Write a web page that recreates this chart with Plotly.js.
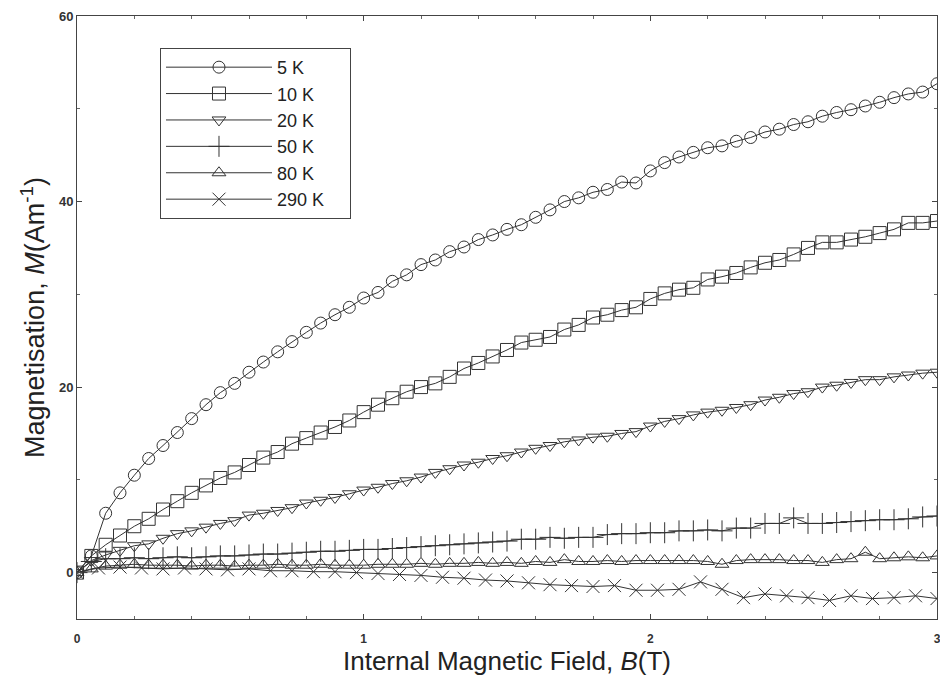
<!DOCTYPE html>
<html>
<head>
<meta charset="utf-8">
<script src="https://cdn.plot.ly/plotly-3.0.1.min.js"></script>
<style>html,body{margin:0;padding:0;background:#fff;}#chart{width:940px;height:680px;}</style>
</head>
<body>
<div id="chart"></div>
<script>
// Field values (T)
const B = [0,0.05,0.1,0.15,0.2,0.25,0.3,0.35,0.4,0.45,0.5,0.55,0.6,0.65,0.7,0.75,0.8,0.85,0.9,0.95,1.0,
  1.05,1.1,1.15,1.2,1.25,1.3,1.35,1.4,1.45,1.5,1.55,1.6,1.65,1.7,1.75,1.8,1.85,1.9,1.95,2.0,
  2.05,2.1,2.15,2.2,2.25,2.3,2.35,2.4,2.45,2.5,2.55,2.6,2.65,2.7,2.75,2.8,2.85,2.9,2.95,3.0];
const B290 = [0,0.075,0.15,0.225,0.3,0.375,0.45,0.525,0.6,0.675,0.75,0.825,0.9,0.975,
  1.05,1.125,1.2,1.275,1.35,1.425,1.5,1.575,1.65,1.725,1.8,
  1.875,1.95,2.025,2.1,2.175,2.25,2.325,2.4,2.475,2.55,2.625,2.7,2.775,2.85,2.925,3.0];

// Magnetisation (A m^-1)
const M5 = [0,1.8,6.4,8.6,10.5,12.3,13.7,15.1,16.6,18.1,19.4,20.4,21.6,22.7,23.8,24.9,25.9,26.9,27.8,28.6,29.6,
  30.2,31.4,32.1,33.2,33.7,34.6,35.1,35.9,36.4,37.0,37.5,38.3,39.1,40.0,40.4,41.0,41.3,42.1,42.0,43.3,
  44.2,44.8,45.3,45.8,46.0,46.5,46.9,47.5,47.8,48.3,48.6,49.2,49.6,49.9,50.3,50.7,51.2,51.6,51.8,52.7];
const M10 = [0,1.8,3.0,4.0,5.0,5.8,6.8,7.7,8.6,9.4,10.2,10.8,11.6,12.4,13.0,13.9,14.5,15.1,15.7,16.4,17.3,
  18.1,18.8,19.5,20.0,20.4,21.1,22.0,22.6,23.3,24.0,24.8,25.1,25.4,26.2,26.7,27.5,27.8,28.3,28.6,29.5,
  30.1,30.5,30.7,31.6,31.9,32.3,32.9,33.4,33.7,34.3,35.0,35.6,35.6,35.9,36.2,36.6,37.0,37.7,37.7,37.9];
const M20 = [0,1.3,1.9,2.4,2.9,3.1,3.7,4.2,4.5,4.9,5.3,5.6,6.2,6.4,6.7,7.0,7.5,7.8,8.1,8.5,8.9,
  9.2,9.6,9.9,10.3,10.8,11.2,11.6,11.9,12.3,12.6,13.0,13.4,13.7,14.1,14.3,14.6,14.7,15.0,15.2,15.8,
  16.3,16.6,17.0,17.3,17.5,17.8,18.1,18.6,18.9,19.3,19.5,20.0,20.2,20.5,20.8,20.8,21.1,21.3,21.5,21.6];
const M50 = [0,1.2,1.5,1.5,1.6,1.5,1.6,1.7,1.6,1.7,1.8,1.8,1.9,2.0,2.0,2.1,2.2,2.3,2.3,2.4,2.5,
  2.5,2.6,2.7,2.8,2.9,3.0,3.1,3.2,3.3,3.4,3.6,3.6,3.8,3.7,3.8,3.8,4.1,4.2,4.2,4.3,
  4.3,4.5,4.5,4.6,4.5,4.8,4.8,5.3,5.3,5.9,5.3,5.3,5.4,5.5,5.6,5.7,5.7,5.8,6.0,6.1];
const M80 = [0,0.4,0.7,0.8,0.9,0.8,0.8,0.8,0.7,0.8,0.8,0.7,0.8,0.8,0.9,0.8,0.8,0.9,0.8,0.8,0.8,
  0.9,0.9,0.9,1.0,0.9,1.0,1.0,1.1,1.0,1.1,1.0,1.2,1.1,1.4,1.2,1.2,1.3,1.2,1.3,1.3,
  1.3,1.3,1.3,1.2,0.9,1.3,1.4,1.4,1.4,1.3,1.3,1.1,1.4,1.5,2.2,1.5,1.6,1.7,1.6,1.8];
const M290 = [0,0.5,0.6,0.5,0.4,0.5,0.4,0.3,0.4,0.2,0.2,0.1,0.1,0.0,
  -0.1,-0.2,-0.3,-0.5,-0.6,-0.8,-0.9,-1.1,-1.3,-1.4,-1.5,
  -1.4,-1.9,-1.9,-1.8,-1.0,-1.8,-2.7,-2.3,-2.5,-2.7,-3.0,-2.5,-2.8,-2.7,-2.5,-2.8];

const seriesNames = ['5 K','10 K','20 K','50 K','80 K','290 K'];
const seriesX = [B,B,B,B,B,B290];
const seriesY = [M5,M10,M20,M50,M80,M290];
const symbols = ['circle-open','square-open','triangle-down-open','cross-thin-open','triangle-up-open','x-thin-open'];
const sizes = [12,13,12,15,12,13];

const ink = '#333333';
const pad = '\u00a0\u00a0\u00a0\u00a0';
const traces = seriesNames.map((n,i)=>({
  type:'scatter', mode:'lines+markers', name:n+pad,
  x:seriesX[i], y:seriesY[i],
  line:{color:ink,width:1},
  marker:{symbol:symbols[i],size:sizes[i],color:ink,line:{color:ink,width:1}}
}));

const font = 'Liberation Sans, Arial, sans-serif';
const layout = {
  width:940, height:680,
  margin:{l:77,r:3,t:16,b:61},
  paper_bgcolor:'#fff', plot_bgcolor:'#fff',
  font:{family:font,color:'#222'},
  showlegend:true,
  legend:{x:0.0965,y:0.947,xanchor:'left',yanchor:'top',
    bordercolor:'#444',borderwidth:1,bgcolor:'#fff',
    font:{family:font,size:18,color:'#222'},
    tracegroupgap:0, itemwidth:106},
  xaxis:{range:[0,3],tickvals:[0,1,2,3],ticks:'inside',ticklen:5,tickcolor:'#444',
    ticklabeloverflow:'allow',
    showline:true,linecolor:'#444',linewidth:1,mirror:'ticks',showgrid:false,zeroline:false,
    minor:{dtick:0.2,ticks:'inside',ticklen:3,tickcolor:'#666'},
    ticklabelstandoff:9,
    tickfont:{family:font,size:12,color:'#333',weight:'bold'},
    title:{text:'Internal Magnetic Field, <i>B</i>(T)',font:{family:font,size:26,color:'#222'},standoff:2}},
  yaxis:{range:[-5,60],tickvals:[0,20,40,60],ticks:'inside',ticklen:5,tickcolor:'#444',
    showline:true,linecolor:'#444',linewidth:1,mirror:'ticks',showgrid:false,zeroline:false,
    minor:{dtick:10,ticks:'inside',ticklen:3,tickcolor:'#666'},
    tickfont:{family:font,size:13,color:'#333',weight:'bold'},
    title:{text:'Magnetisation, <i>M</i>(Am<sup>-1</sup>)',font:{family:font,size:27,color:'#222'},standoff:6}}
};
Plotly.newPlot('chart',traces,layout,{displayModeBar:false,staticPlot:true});
</script>
</body>
</html>
